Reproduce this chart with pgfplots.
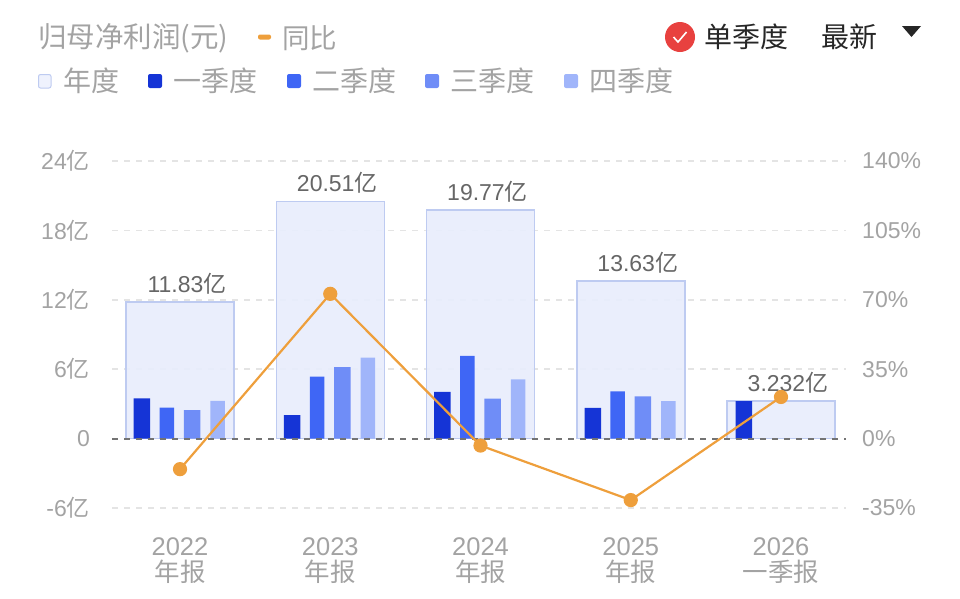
\documentclass[border=0pt]{standalone}
\usepackage{pgfplots}
\usepackage{fontspec}
\pgfplotsset{compat=1.18}
\setmainfont{Liberation Sans}
\newfontfamily\cjk{Noto Sans CJK SC}
\definecolor{yearfill}{HTML}{E8EDFC}
\definecolor{yearedge}{HTML}{BECBF1}
\definecolor{qa}{HTML}{1534D6}
\definecolor{qb}{HTML}{3F66F5}
\definecolor{qc}{HTML}{6F8DF7}
\definecolor{qd}{HTML}{A0B5FA}
\definecolor{oran}{HTML}{EE9F3C}
\definecolor{txt}{HTML}{A3A3A3}
\definecolor{lab}{HTML}{666666}
\definecolor{gridc}{HTML}{E4E4E4}
\definecolor{redc}{HTML}{E8413F}
\pgfplotstableread{
x y l
0 11.83 11.83
1 20.51 20.51
2 19.77 19.77
3 13.63 13.63
4 3.232 3.232
}\yeartable
\pgfplotstableread{
x y
-0.253 3.48
0.747 2.03
1.747 4.05
2.747 2.65
3.753 3.232
}\qone
\pgfplotstableread{
x y
-0.087 2.67
0.913 5.35
1.913 7.15
2.913 4.08
}\qtwo
\pgfplotstableread{
x y
0.08 2.47
1.08 6.19
2.08 3.45
3.08 3.65
}\qthree
\pgfplotstableread{
x y
0.25 3.27
1.25 7.00
2.25 5.12
3.25 3.25
}\qfour
\pgfplotstableread{
x y
0 -15.4
1 73
2 -3.5
3 -31
4 21
}\yoy
\begin{document}
\begin{tikzpicture}[x=1pt,y=1pt]
\path[use as bounding box] (0,0) rectangle (960,-598);
\begin{axis}[
  at={(112pt,-508pt)},anchor=south west,
  scale only axis,width=734pt,height=347pt,
  xmin=-0.4526,xmax=4.4326,ymin=-6,ymax=24,
  axis line style={draw=none},tick style={draw=none},
  xtick={0,1,2,3,4},
  xticklabels={{2022\\{\cjk 年报}},{2023\\{\cjk 年报}},{2024\\{\cjk 年报}},{2025\\{\cjk 年报}},{2026\\{\cjk 一季报}}},
  xticklabel style={align=center,font=\fontsize{25.5}{26}\selectfont,text=txt,inner sep=0pt},
  tick label style={text=txt},
  x tick label style={yshift=-25.5pt},
  ytick={-6,0,6,12,18,24},
  yticklabels={-6{\cjk 亿},0,6{\cjk 亿},12{\cjk 亿},18{\cjk 亿},24{\cjk 亿}},
  yticklabel style={font=\fontsize{23}{25}\selectfont,text=txt,inner sep=0pt,anchor=east,xshift=-22pt},
  ymajorgrids,
  grid style={gridc,line width=1.6pt,dash pattern=on 6pt off 6pt},
  ybar,bar shift=0pt,
]
\addplot[bar width=108pt,fill=yearfill,fill opacity=0.92,draw=yearedge,line width=1.5pt,
  nodes near coords={\pgfplotspointmeta{\cjk 亿}},point meta=explicit symbolic,
  every node near coord/.append style={font=\fontsize{23}{25}\selectfont,text=lab,inner sep=0pt,anchor=south,yshift=7pt,xshift=7pt,fill opacity=1,text opacity=1}]
  table[x=x,y=y,meta=l]{\yeartable};
\addplot[bar width=16.5pt,fill=qa,draw=none] table[x=x,y=y]{\qone};
\addplot[bar width=14.5pt,fill=qb,draw=none] table[x=x,y=y]{\qtwo};
\addplot[bar width=16.5pt,fill=qc,draw=none] table[x=x,y=y]{\qthree};
\addplot[bar width=14.5pt,fill=qd,draw=none] table[x=x,y=y]{\qfour};
\end{axis}
\begin{axis}[
  at={(112pt,-508pt)},anchor=south west,
  scale only axis,width=734pt,height=347pt,
  xmin=-0.4526,xmax=4.4326,ymin=-35,ymax=140,
  axis line style={draw=none},tick style={draw=none},
  xtick=\empty,
  yticklabel pos=right,
  ytick={-35,0,35,70,105,140},
  yticklabels={-35\%,0\%,35\%,70\%,105\%,140\%},
  yticklabel style={font=\fontsize{23}{25}\selectfont,text=txt,inner sep=0pt,anchor=west,xshift=16pt},
]
\addplot[draw=black!55,line width=1.8pt,dash pattern=on 6pt off 6pt] coordinates {(-0.4526,0) (4.4326,0)};
\addplot[draw=oran,line width=2.2pt,mark=*,mark size=6pt,mark options={fill=oran,draw=none}] table[x=x,y=y]{\yoy};
\end{axis}
% header
\node[anchor=west,inner sep=0pt,text=txt,font=\cjk\fontsize{28.5}{30}\selectfont] at (38,-38) {归母净利润(元)};
\fill[oran,rounded corners=2pt] (258,-34.5) rectangle (271,-39.5);
\node[anchor=west,inner sep=0pt,text=txt,font=\cjk\fontsize{27.5}{29}\selectfont] at (282,-38) {同比};
\fill[redc] (680,-37) circle (15);
\draw[white,line width=1.6pt] (673.5,-37) -- (678,-42) -- (686.5,-32);
\node[anchor=west,inner sep=0pt,text=black!85,font=\cjk\fontsize{28}{30}\selectfont] at (704,-37) {单季度};
\node[anchor=west,inner sep=0pt,text=black!85,font=\cjk\fontsize{28}{30}\selectfont] at (821,-37) {最新};
\fill[black!85] (902,-26) -- (921,-26) -- (911.5,-37) -- cycle;
% legend
\filldraw[fill=yearfill!70!white,draw=yearedge,line width=1pt,rounded corners=2pt] (38.5,-74.5) rectangle (51,-88);
\node[anchor=west,inner sep=0pt,text=txt,font=\cjk\fontsize{28}{30}\selectfont] at (63,-81) {年度};
\fill[qa,rounded corners=2pt] (148,-74) rectangle (162,-88);
\node[anchor=west,inner sep=0pt,text=txt,font=\cjk\fontsize{28}{30}\selectfont] at (173,-81) {一季度};
\fill[qb,rounded corners=2pt] (287,-74) rectangle (301,-88);
\node[anchor=west,inner sep=0pt,text=txt,font=\cjk\fontsize{28}{30}\selectfont] at (312,-81) {二季度};
\fill[qc,rounded corners=2pt] (425,-74) rectangle (439,-88);
\node[anchor=west,inner sep=0pt,text=txt,font=\cjk\fontsize{28}{30}\selectfont] at (450,-81) {三季度};
\fill[qd,rounded corners=2pt] (564,-74) rectangle (578,-88);
\node[anchor=west,inner sep=0pt,text=txt,font=\cjk\fontsize{28}{30}\selectfont] at (589,-81) {四季度};
\end{tikzpicture}
\end{document}
